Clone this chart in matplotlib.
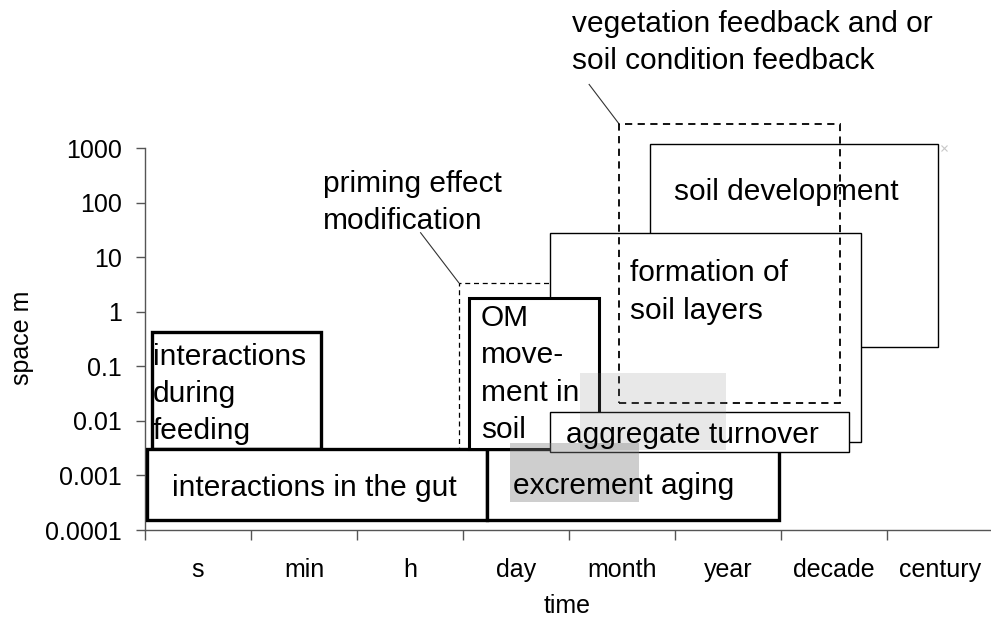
import matplotlib
matplotlib.use('Agg')
import matplotlib.pyplot as plt
import matplotlib.patches as mpatches
from matplotlib.ticker import FixedLocator, FixedFormatter, NullLocator

plt.rcParams['font.family'] = ['Liberation Sans', 'DejaVu Sans']

# time classes on the x axis (one unit per class)
categories = ['s', 'min', 'h', 'day', 'month', 'year', 'decade', 'century']
y_ticks = [1e-4, 1e-3, 1e-2, 1e-1, 1, 10, 100, 1000]
y_labels = ['0.0001', '0.001', '0.01', '0.1', '1', '10', '100', '1000']

# process boxes: time span (category units) and space span (m)
box_names = ['feeding', 'gut', 'excrement', 'priming', 'soil_dev',
             'formation', 'om', 'vegetation', 'aggregate']
box_t0 = [0.07, 0.02, 3.23, 2.96, 4.76, 3.82, 3.06, 4.47, 3.82]
box_t1 = [1.66, 3.23, 5.98, 4.50, 7.48, 6.75, 4.28, 6.56, 6.64]
box_s0 = [0.003, 0.00015, 0.00015, 0.003, 0.23, 0.0041, 0.003, 0.021, 0.0027]
box_s1 = [0.43, 0.003, 0.003, 3.4, 1200, 28, 1.8, 2800, 0.0146]

# shaded overlap areas
shade_t0 = [4.10, 3.44]
shade_t1 = [5.48, 4.66]
shade_s0 = [0.0029, 0.00033]
shade_s1 = [0.076, 0.0039]

# stray marker of the original sheet
stray_t = [7.54]
stray_s = [1000]

# leader lines from the labels to the dashed boxes
leader_priming_t = [2.60, 2.96]
leader_priming_s = [28, 3.4]
leader_veg_t = [4.19, 4.47]
leader_veg_s = [14600, 2800]

styles = {
    'feeding': dict(lw=2.4, ls='-', fill=True, z=2),
    'gut': dict(lw=2.4, ls='-', fill=True, z=3),
    'excrement': dict(lw=2.4, ls='-', fill=True, z=3),
    'priming': dict(lw=0.9, ls=(0, (4, 3)), fill=True, z=2),
    'soil_dev': dict(lw=1.0, ls='-', fill=True, z=2),
    'formation': dict(lw=1.0, ls='-', fill=True, z=3),
    'om': dict(lw=2.2, ls='-', fill=True, z=4),
    'vegetation': dict(lw=1.3, ls=(0, (4, 3)), fill=False, z=5),
    'aggregate': dict(lw=1.0, ls='-', fill=True, z=6),
}

fig = plt.figure(figsize=(9.91, 6.23), dpi=100)
ax = fig.add_axes([145 / 991, 93 / 623, 846 / 991, 382 / 623])
ax.set_yscale('log')
ax.set_xlim(0, 846 / 106)
ax.set_ylim(1e-4, 1e3)

for i, name in enumerate(box_names):
    st = styles[name]
    rect = mpatches.Rectangle((box_t0[i], box_s0[i]), box_t1[i] - box_t0[i],
                              box_s1[i] - box_s0[i],
                              facecolor='white' if st['fill'] else 'none',
                              edgecolor='black', linewidth=st['lw'],
                              linestyle=st['ls'], zorder=st['z'],
                              clip_on=False)
    ax.add_patch(rect)

shade_alpha = [0.18, 0.38]
for i in range(len(shade_t0)):
    ax.add_patch(mpatches.Rectangle((shade_t0[i], shade_s0[i]),
                                    shade_t1[i] - shade_t0[i],
                                    shade_s1[i] - shade_s0[i],
                                    facecolor='gray', edgecolor='none',
                                    alpha=shade_alpha[i], zorder=7))

ax.plot(stray_t, stray_s, 'x', color='#c8c8c8', ms=4, mew=0.8,
        clip_on=False, zorder=2)
ax.plot(leader_priming_t, leader_priming_s, color='#333333', lw=0.8,
        clip_on=False, zorder=2)
ax.plot(leader_veg_t, leader_veg_s, color='#333333', lw=0.8,
        clip_on=False, zorder=2)

fs = 21.5
txt = dict(fontsize=fs, ha='left', va='center', zorder=8,
           linespacing=1.42, clip_on=False)
ax.text(0.075, 0.031, 'interactions\nduring\nfeeding', **txt)
ax.text(0.255, 6.0e-4, 'interactions in the gut', **txt)
ax.text(3.47, 6.4e-4, 'excrement aging', **txt)
ax.text(3.97, 0.0055, 'aggregate turnover', **txt)
ax.text(3.17, 0.072, 'OM\nmove-\nment in\nsoil', **txt)
ax.text(4.575, 2.3, 'formation of\nsoil layers', **txt)
ax.text(4.99, 156, 'soil development', **txt)
ax.text(1.68, 100, 'priming effect\nmodification', **txt)
ax.text(4.03, 8.5e4, 'vegetation feedback and or\nsoil condition feedback', **txt)

# axes styling
for side in ['top', 'right']:
    ax.spines[side].set_visible(False)
for side in ['left', 'bottom']:
    ax.spines[side].set_color('#555555')
    ax.spines[side].set_linewidth(1.0)

ax.yaxis.set_major_locator(FixedLocator(y_ticks))
ax.yaxis.set_major_formatter(FixedFormatter(y_labels))
ax.yaxis.set_minor_locator(NullLocator())
ax.tick_params(axis='y', which='major', length=6.5, width=1.0,
               color='#555555', labelsize=18, pad=10)

ax.xaxis.set_major_locator(FixedLocator(range(len(categories) + 1)))
ax.xaxis.set_major_formatter(FixedFormatter([''] * (len(categories) + 1)))
ax.xaxis.set_minor_locator(FixedLocator([i + 0.5 for i in range(len(categories))]))
ax.xaxis.set_minor_formatter(FixedFormatter(categories))
ax.tick_params(axis='x', which='major', length=7, width=1.0, color='#555555')
ax.tick_params(axis='x', which='minor', length=0, labelsize=18, pad=20)

fig.text(22 / 991, 1 - 338 / 623, 'space m', rotation=90, fontsize=18,
         ha='center', va='center')
fig.text(567 / 991, 1 - 606 / 623, 'time', fontsize=18,
         ha='center', va='center')

fig.savefig('out.png', dpi=100)
